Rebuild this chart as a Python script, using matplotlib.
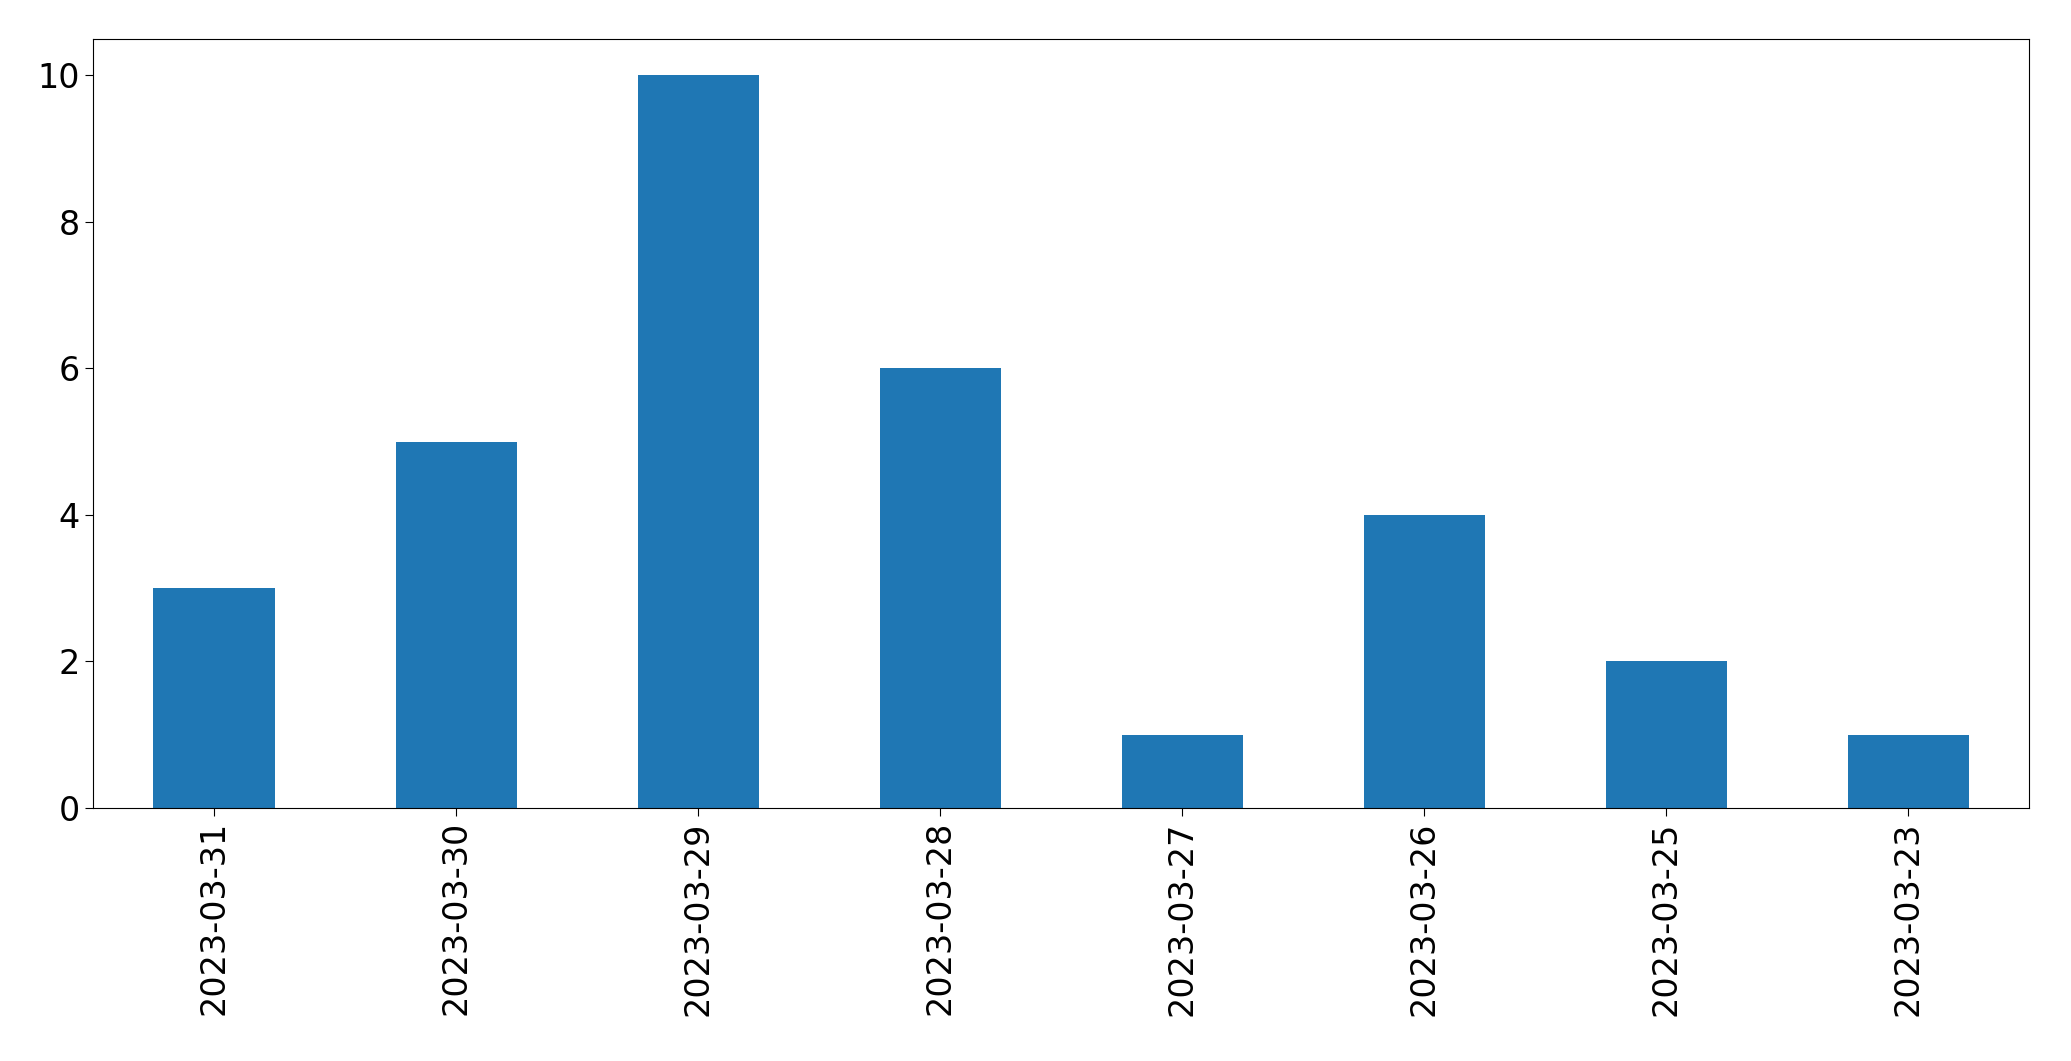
import matplotlib
matplotlib.use('Agg')
import matplotlib.pyplot as plt

dates = ['2023-03-31', '2023-03-30', '2023-03-29', '2023-03-28',
         '2023-03-27', '2023-03-26', '2023-03-25', '2023-03-23']
counts = [3, 5, 10, 6, 1, 4, 2, 1]

fig = plt.figure(figsize=(20.71, 10.61), dpi=100)
ax = fig.add_axes([0.0449, 0.2385, 0.935, 0.725])
x = range(len(dates))
ax.bar(x, counts, width=0.5, color='#1f77b4')
ax.set_xlim(-0.5, len(dates) - 0.5)
ax.set_ylim(0, 10.5)
ax.set_xticks(list(x))
ax.set_xticklabels(dates, rotation=90)
ax.tick_params(axis='both', labelsize=24, length=6)
fig.savefig('out.png', dpi=100)
